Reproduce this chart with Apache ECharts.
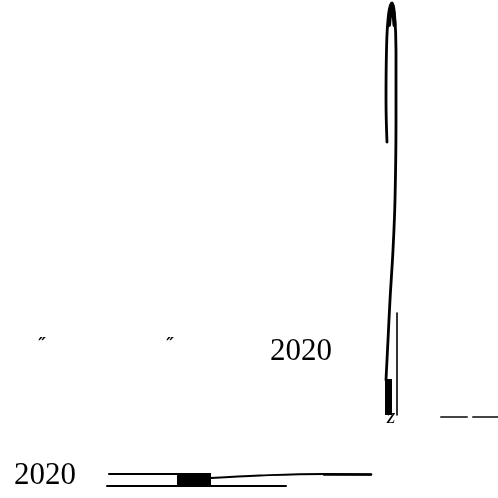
<!DOCTYPE html>
<html>
<head>
<meta charset="utf-8">
<script src="https://cdn.jsdelivr.net/npm/echarts@6/dist/echarts.min.js"></script>
<style>html,body{margin:0;padding:0;background:#fff;}#c{width:498px;height:498px;}</style>
</head>
<body>
<div id="c"></div>
<script>
// Text labels: [x, y, text]
const yearLabels = [[301, 352, '2020'], [45, 476, '2020']];
const quoteLabels = [[42, 346, '\u2033'], [170, 346, '\u2033']];
const glyphLabels = [[391, 417, 'z']];
// Stroke paths (series values on a pixel-like value scale)
const loopStroke = [[387,142],[386,100],[386.5,50],[388.5,15],[392,3],[394.5,14],[396,50],[396,120],[395,200],[393,250],[390,300],[388,340],[386,380]];
const loopTop = [[389,25],[392,4],[394.5,25]];
const thinStroke = [[397,313],[397,415]];
const dashA = [[441,417],[467,417]];
const dashB = [[473,417],[498,417]];
const bottomTop = [[109,474],[177,474]];
const bottomTail = [[211,478],[260,475.5],[324,474],[371,474.5]];
const bottomTailThick = [[324,474.5],[371,474.5]];
const bottomBase = [[107,486],[286,486]];
// Filled blocks: [x0, y0, x1, y1]
const blocks = [[385,379,392,415],[177,473,211,486]];

const chart = echarts.init(document.getElementById('c'), null, {renderer: 'canvas'});
function lineSeries(data, width, color) {
  return {type: 'line', data: data, symbol: 'none', silent: true, animation: false,
    smooth: data.length > 2 ? 0.4 : false,
    lineStyle: {width: width, color: color || '#000', cap: 'round', opacity: 1}};
}
function textSeries(data, size, family, style, weight) {
  return {type: 'scatter', data: data, symbolSize: 0, silent: true, animation: false,
    itemStyle: {opacity: 1},
    label: {show: true, position: 'inside', formatter: p => p.data[2],
      fontSize: size, fontFamily: family, fontStyle: style || 'normal',
      fontWeight: weight || 'normal', color: '#000', opacity: 1, textBorderWidth: 0}};
}
chart.setOption({
  animation: false,
  grid: {left: 0, right: 0, top: 0, bottom: 0},
  xAxis: {type: 'value', min: 0, max: 498, show: false},
  yAxis: {type: 'value', min: 0, max: 498, inverse: true, show: false},
  series: [
    lineSeries(loopStroke, 2.8),
    lineSeries(loopTop, 4),
    lineSeries(thinStroke, 1.6),
    lineSeries(dashA, 2, '#444'),
    lineSeries(dashB, 2, '#444'),
    lineSeries(bottomTop, 2),
    lineSeries(bottomTail, 1.8),
    lineSeries(bottomTailThick, 2.6),
    lineSeries(bottomBase, 2),
    textSeries(glyphLabels, 22, 'Liberation Serif', 'italic'),
    {type: 'custom', silent: true, animation: false, data: blocks,
      renderItem: function (params, api) {
        const p0 = api.coord([api.value(0), api.value(1)]);
        const p1 = api.coord([api.value(2), api.value(3)]);
        return {type: 'rect', shape: {x: p0[0], y: p0[1], width: p1[0]-p0[0], height: p1[1]-p0[1]},
          style: {fill: '#000'}};
      },
      encode: {x: [0, 2], y: [1, 3]}},
    textSeries(yearLabels, 31, 'Liberation Serif'),
    textSeries(quoteLabels, 17, 'DejaVu Sans', 'italic', 'bold')
  ]
});
</script>
</body>
</html>
